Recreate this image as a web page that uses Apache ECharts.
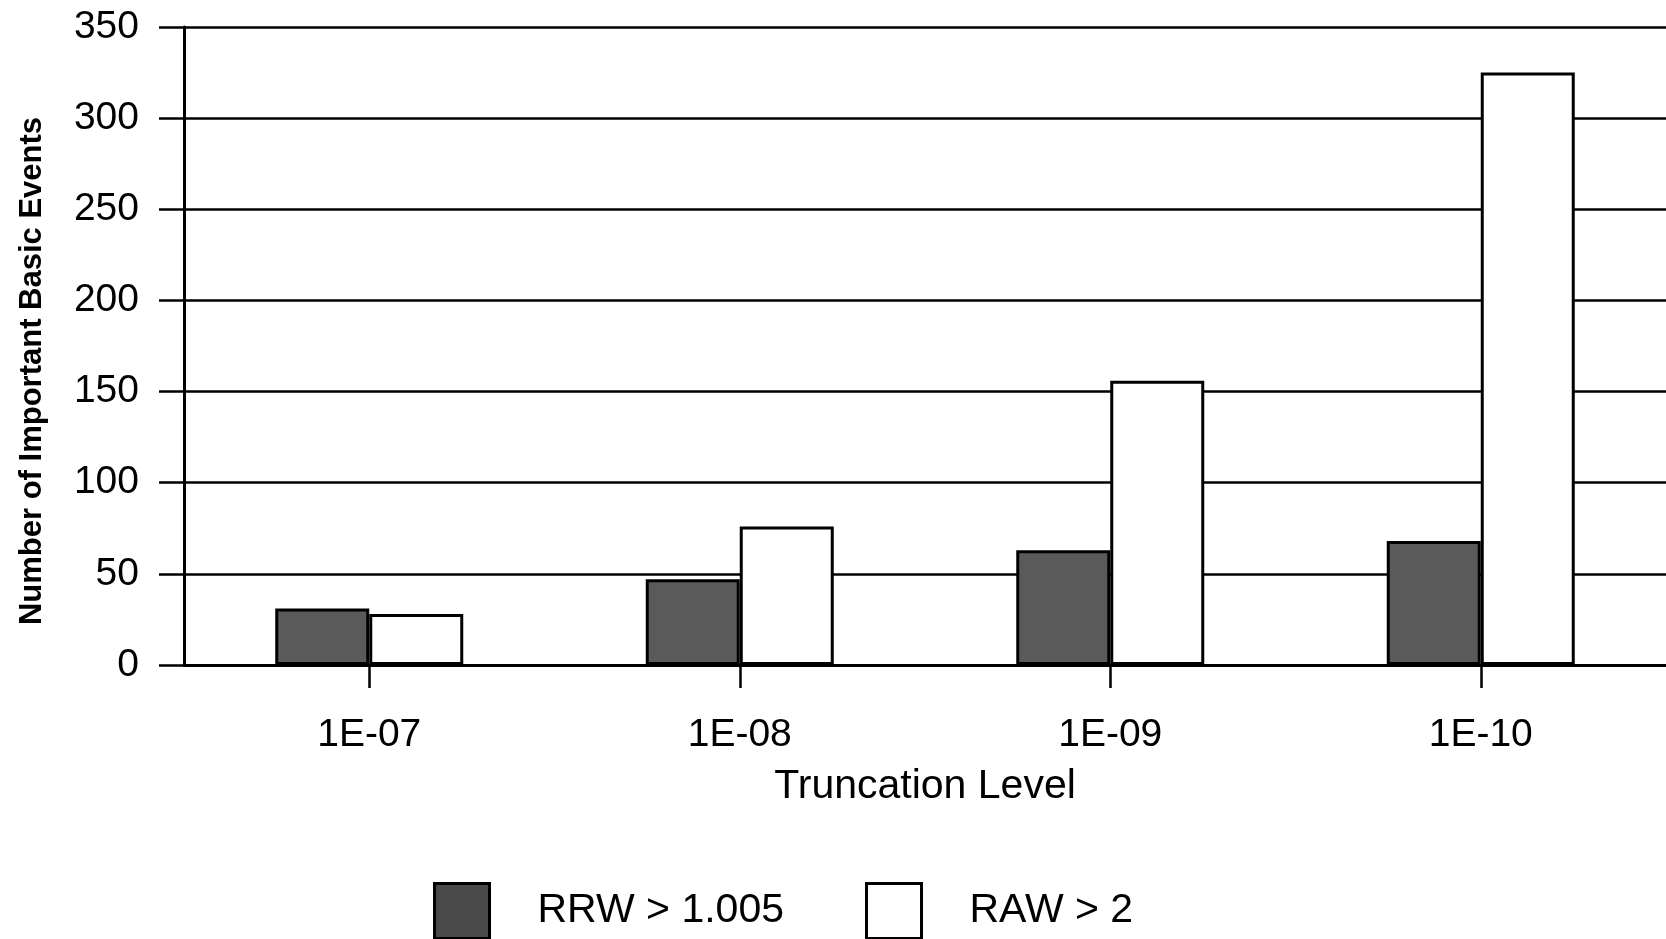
<!DOCTYPE html>
<html>
<head>
<meta charset="utf-8">
<script src="https://cdn.jsdelivr.net/npm/echarts@6/dist/echarts.min.js"></script>
<style>
html,body{margin:0;padding:0;background:#fff;}
#chart{width:1666px;height:939px;}
</style>
</head>
<body>
<div id="chart"></div>
<script>
var categories = ['1E-07', '1E-08', '1E-09', '1E-10'];
var rrwValues = [31, 47, 63, 68];
var rawValues = [28, 76, 156, 325];
var seriesNames = ['RRW > 1.005', 'RAW > 2'];
var yTicks = [0, 50, 100, 150, 200, 250, 300, 350];
var xTitle = 'Truncation Level';
var yTitle = 'Number of Important Basic Events';

var FONT = "'Liberation Sans', Arial, Helvetica, sans-serif";
var chart = echarts.init(document.getElementById('chart'), null, {renderer: 'canvas'});

var rrwStyle = {color: '#5a5a5a', borderColor: '#000', borderWidth: 3};
var rawStyle = {color: '#ffffff', borderColor: '#000', borderWidth: 3};

chart.setOption({
  backgroundColor: '#ffffff',
  animation: false,
  grid: {left: 184, right: 0, top: 27, bottom: 274, containLabel: false},
  legend: {
    left: 428,
    top: 877,
    orient: 'horizontal',
    itemWidth: 55,
    itemHeight: 55,
    itemGap: 81,
    icon: 'rect',
    textStyle: {fontFamily: FONT, fontSize: 41, color: '#000', padding: [0, 0, 0, 43]},
    data: [
      {name: seriesNames[0], itemStyle: {color: '#4a4a4a', borderColor: '#000', borderWidth: 3}},
      {name: seriesNames[1], itemStyle: {color: '#fff', borderColor: '#000', borderWidth: 3}}
    ]
  },
  xAxis: {
    type: 'category',
    data: categories,
    boundaryGap: true,
    name: xTitle,
    nameLocation: 'middle',
    nameGap: 101,
    nameTextStyle: {fontFamily: FONT, fontSize: 41, color: '#000'},
    axisLine: {show: true, lineStyle: {color: '#000', width: 3}},
    axisTick: {show: true, alignWithLabel: true, length: 23, lineStyle: {color: '#000', width: 2.5}},
    axisLabel: {fontFamily: FONT, fontSize: 39, color: '#000', margin: 51},
    splitLine: {show: false}
  },
  yAxis: {
    type: 'value',
    min: yTicks[0],
    max: yTicks[yTicks.length - 1],
    interval: yTicks[1] - yTicks[0],
    name: yTitle,
    nameLocation: 'middle',
    nameRotate: 90,
    nameGap: 136,
    nameTextStyle: {fontFamily: FONT, fontSize: 31, fontWeight: 'bold', color: '#000', padding: [0, 50, 0, 0]},
    axisLine: {show: true, lineStyle: {color: '#000', width: 3}},
    axisTick: {show: true, length: 25, lineStyle: {color: '#000', width: 2.5}},
    axisLabel: {fontFamily: FONT, fontSize: 39, color: '#000', margin: 45},
    splitLine: {show: true, lineStyle: {color: '#000', width: 2.5}}
  },
  series: [
    {
      name: seriesNames[0],
      type: 'bar',
      data: rrwValues,
      barWidth: 94,
      barGap: '0%',
      itemStyle: rrwStyle
    },
    {
      name: seriesNames[1],
      type: 'bar',
      data: rawValues,
      barWidth: 94,
      barGap: '0%',
      itemStyle: rawStyle
    }
  ]
});
</script>
</body>
</html>
